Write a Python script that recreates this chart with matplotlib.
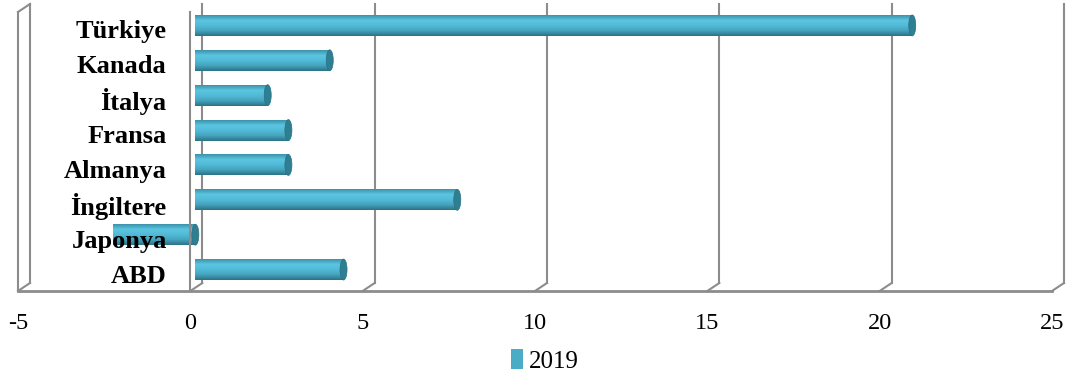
import numpy as np
import matplotlib
matplotlib.use("Agg")
import matplotlib.pyplot as plt
from matplotlib.patches import Ellipse, Patch
from matplotlib.colors import LinearSegmentedColormap
from matplotlib.transforms import offset_copy, IdentityTransform

countries = ["ABD", "Japonya", "İngiltere", "Almanya", "Fransa", "İtalya", "Kanada", "Türkiye"]
values_2019 = [4.3, -2.4, 7.6, 2.7, 2.7, 2.1, 3.9, 20.8]
series_name = "2019"
x_ticks = [-5, 0, 5, 10, 15, 20, 25]

plt.rcParams['font.family'] = ['Liberation Serif', 'DejaVu Serif']

grid_col = "#8c8c8c"
bar_col = "#4bacc6"
cap_col = "#2f7f93"
depth = (12, 8)       # back wall offset in pixels
mid = (5, 4)          # bars sit half way back

fig = plt.figure(figsize=(10.68, 3.8), dpi=100)
ax = fig.add_axes([18 / 1068, 89 / 380, 1034 / 1068, 279 / 380])
ax.set_xlim(-5, 25)
ax.set_ylim(-0.5, len(countries) - 0.5)
ylo, yhi = ax.get_ylim()

for s in ["top", "right", "bottom"]:
    ax.spines[s].set_visible(False)
ax.spines["left"].set_position(("data", 0))
ax.spines["left"].set_color(grid_col)
ax.spines["left"].set_linewidth(1.5)
ax.spines["left"].set_zorder(5)

ax.set_yticks(range(len(countries)))
ax.set_yticklabels(countries, fontsize=19, fontweight="bold")
ax.set_xticks(x_ticks)
ax.set_xticklabels([str(t) for t in x_ticks], fontsize=17.5)
ax.tick_params(axis="y", length=0, pad=17)
ax.tick_params(axis="x", length=0, pad=16)
ax.yaxis.set_zorder(10)

back = offset_copy(ax.transData, fig=fig, x=depth[0], y=depth[1], units="dots")
barT = offset_copy(ax.transData, fig=fig, x=mid[0], y=mid[1], units="dots")

# back wall gridlines + floor diagonals
for t in x_ticks:
    ax.plot([t, t], [ylo, yhi], color=grid_col, lw=1.5, transform=back, zorder=1, clip_on=False)
    p = ax.transData.transform((t, ylo))
    ax.plot([p[0], p[0] + depth[0]], [p[1], p[1] + depth[1]], color=grid_col, lw=1.5,
            transform=IdentityTransform(), zorder=1, clip_on=False)
# front floor line and left wall
ax.plot([-5, 25], [ylo, ylo], color=grid_col, lw=2, zorder=2, clip_on=False)
ax.plot([-5, -5], [ylo, yhi], color=grid_col, lw=1.5, zorder=2, clip_on=False)
p = ax.transData.transform((-5, yhi))
ax.plot([p[0], p[0] + depth[0]], [p[1], p[1] + depth[1]], color=grid_col, lw=1.5,
        transform=IdentityTransform(), zorder=2, clip_on=False)

# cylinder bars
cyl = LinearSegmentedColormap.from_list("cyl", ["#2c7386", "#45a3bd", "#52bad6", "#5cc6e2", "#3b93aa"])
grad = np.linspace(0, 1, 64).reshape(-1, 1)
h = 0.6
cap_w = 7 / 34.47
for i, v in enumerate(values_2019):
    x0, x1 = min(0, v), max(0, v)
    im = ax.imshow(grad, cmap=cyl, aspect="auto", origin="lower",
                   extent=(x0, x1, i - h / 2, i + h / 2), interpolation="bilinear", zorder=3)
    im.set_transform(barT)
    ax.add_patch(Ellipse((x1, i), cap_w, h, facecolor=cap_col, edgecolor="#2a7082",
                         lw=0.5, transform=barT, zorder=4))

ax.set_xlim(-5, 25)
ax.set_ylim(ylo, yhi)

fig.legend(handles=[Patch(facecolor=bar_col, label=series_name)], loc="lower center",
           bbox_to_anchor=(0.51, -0.04), frameon=False, fontsize=18,
           handlelength=0.5, handleheight=0.8, handletextpad=0.2)

fig.savefig("out.png", dpi=100)
